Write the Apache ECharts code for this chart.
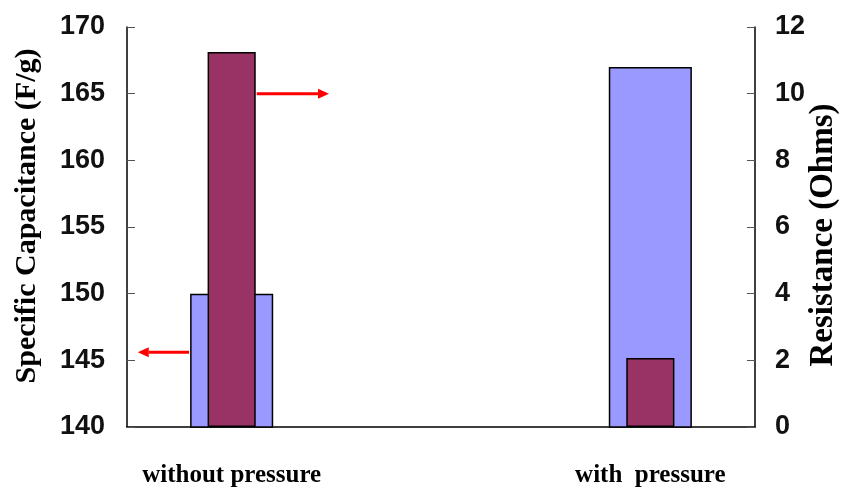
<!DOCTYPE html>
<html><head><meta charset="utf-8">
<script src="https://cdn.jsdelivr.net/npm/echarts@6/dist/echarts.min.js"></script>
<style>html,body{margin:0;padding:0;background:#fff}#c{width:841px;height:489px}</style>
</head><body><div id="c"></div>
<script>
const categories = ['without pressure', '', 'with  pressure'];
const capacitance = [150, null, 167];
const resistance = [11.25, null, 2.07];
const leftTicks = {min: 140, max: 170, interval: 5};
const rightTicks = {min: 0, max: 12, interval: 2};
const arrowRightValue = 10;     // right-axis value of the arrow pointing to resistance axis
const arrowLeftValue = 145.6;   // left-axis value of the arrow pointing to capacitance axis

const chart = echarts.init(document.getElementById('c'), null, {renderer: 'canvas'});
const labelFont = {fontFamily: '"Liberation Sans", Arial', fontWeight: 'bold', fontSize: 27, color: '#111'};
const blueW = 0.397, maroonW = 0.23;
chart.setOption({
  animation: false,
  grid: {left: 127, right: 86, top: 27, bottom: 62, containLabel: false, outerBoundsMode: 'none'},
  xAxis: [{
    type: 'category', data: categories, boundaryGap: true,
    axisLine: {lineStyle: {color: '#000', width: 1.5}},
    axisTick: {inside: true, length: 7, lineStyle: {color: '#444'}},
    axisLabel: {fontFamily: 'Liberation Serif', fontWeight: 'bold', fontSize: 25, color: '#000', margin: 36}
  }, {
    type: 'category', data: categories, show: false
  }],
  yAxis: [{
    type: 'value', min: leftTicks.min, max: leftTicks.max, interval: leftTicks.interval,
    name: 'Specific Capacitance (F/g)', nameLocation: 'middle', nameRotate: 90, nameGap: 85,
    nameMoveOverlap: false,
    nameTextStyle: {fontFamily: 'Liberation Serif', fontWeight: 'bold', fontSize: 30, color: '#000', padding: [0, 0, 0, 22]},
    axisLine: {show: true, lineStyle: {color: '#000', width: 1.5}},
    axisTick: {show: true, inside: true, length: 8, lineStyle: {color: '#555'}},
    axisLabel: Object.assign({margin: 22}, labelFont),
    splitLine: {show: false}
  }, {
    type: 'value', min: rightTicks.min, max: rightTicks.max, interval: rightTicks.interval,
    position: 'right',
    name: 'Resistance (Ohms)', nameLocation: 'middle', nameRotate: 90, nameGap: 52,
    nameMoveOverlap: false,
    nameTextStyle: {fontFamily: 'Liberation Serif', fontWeight: 'bold', fontSize: 33, color: '#000', padding: [0, 16, 0, 0]},
    axisLine: {show: true, lineStyle: {color: '#000', width: 1.5}},
    axisTick: {show: true, inside: true, length: 8, lineStyle: {color: '#555'}},
    axisLabel: Object.assign({margin: 20}, labelFont),
    splitLine: {show: false}
  }],
  series: [{
    type: 'bar', name: 'Specific Capacitance', xAxisIndex: 0, yAxisIndex: 0,
    data: capacitance, barWidth: (blueW * 100) + '%',
    itemStyle: {color: '#9999FF', borderColor: '#000', borderWidth: 1.5}
  }, {
    type: 'bar', name: 'Resistance', xAxisIndex: 1, yAxisIndex: 1,
    data: resistance, barWidth: (maroonW * 100) + '%',
    itemStyle: {color: '#993366', borderColor: '#000', borderWidth: 1.5}
  }]
});

function arrow(x1, x2, y) {
  const dir = x2 > x1 ? 1 : -1;
  const head = 11;
  return [{
    type: 'line', shape: {x1: x1, y1: y, x2: x2 - dir * head, y2: y},
    style: {stroke: '#FF0000', lineWidth: 3}, z: 100
  }, {
    type: 'polygon', shape: {points: [[x2, y], [x2 - dir * head, y - 5], [x2 - dir * head, y + 5]]},
    style: {fill: '#FF0000'}, z: 100
  }];
}
const c0 = chart.convertToPixel({xAxisIndex: 0}, 0);
const c1 = chart.convertToPixel({xAxisIndex: 0}, 1);
const band = c1 - c0;
const yR = chart.convertToPixel({yAxisIndex: 1}, arrowRightValue);
const yL = chart.convertToPixel({yAxisIndex: 0}, arrowLeftValue);
const maroonRight = c0 + band * maroonW / 2;
const blueLeft = c0 - band * blueW / 2;
chart.setOption({
  graphic: [].concat(
    arrow(maroonRight + 1, maroonRight + band * 0.35, yR),
    arrow(blueLeft - 1, blueLeft - band * 0.25, yL)
  )
});
</script>
</body></html>
